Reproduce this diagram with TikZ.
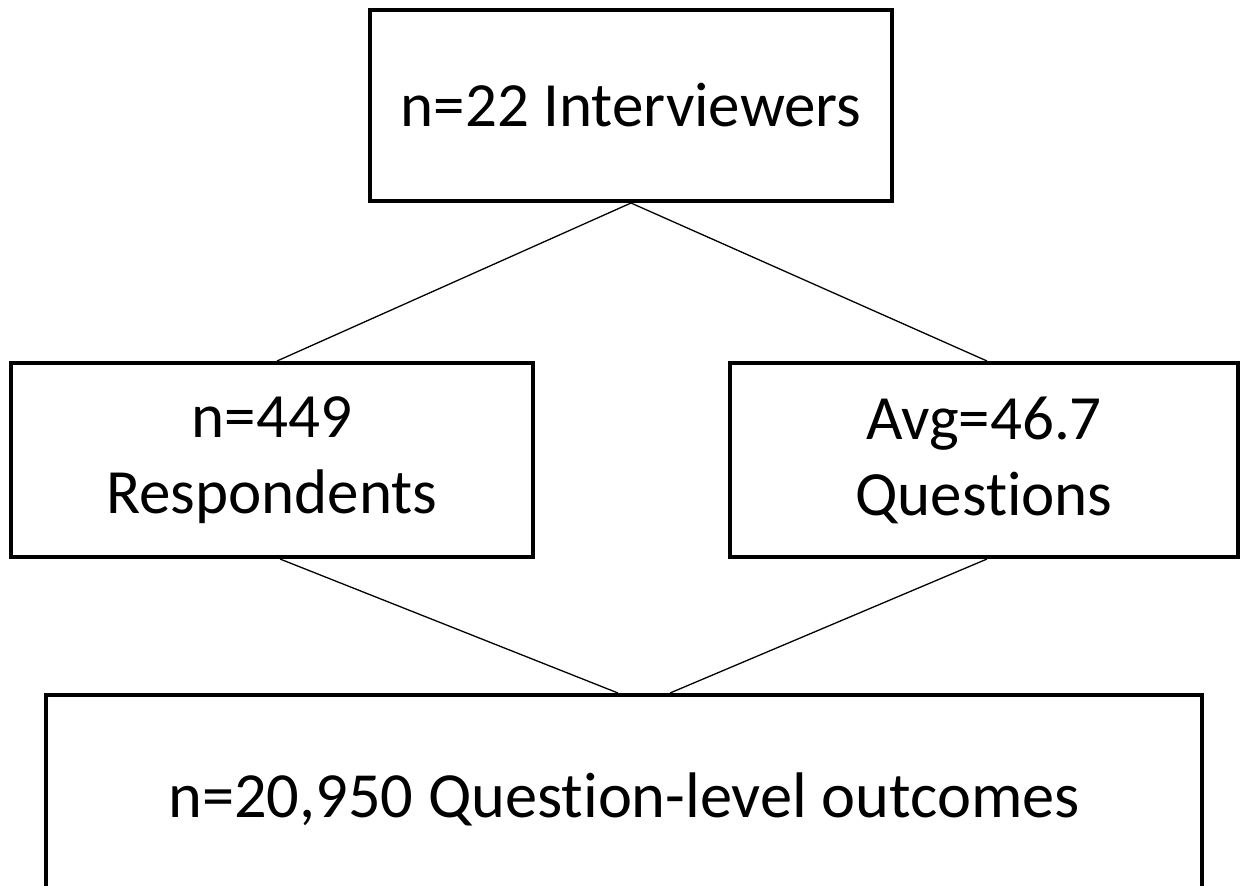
\documentclass[tikz,border=0pt]{standalone}
\usepackage{fontspec}
\setmainfont{Carlito}[Ligatures=NoCommon]
\usepackage{tikz}
\usetikzlibrary{positioning}

\begin{document}
\begin{tikzpicture}[
  x=0.5pt,y=-0.5pt,
  box/.style={rectangle,draw=black,line width=2pt,fill=white,align=center,
              inner sep=0pt,font=\fontsize{31.5}{38}\selectfont},
  link/.style={draw=black,line width=0.65pt}
]
\useasboundingbox (0,0) rectangle (1240,885);
\node[box,minimum width=261pt,minimum height=95.5pt] (interv) at (631,105.5) {n=22 Interviewers};
\node[box,minimum width=261pt,minimum height=97pt] (resp) at (272,460) {n=449\\Respondents};
\node[box,minimum width=254pt,minimum height=97pt] (quest) at (984,460) {Avg=46.7\\Questions};
\node[box,minimum width=578pt,minimum height=150pt,text depth=50pt,
      font=\fontsize{32.2}{38}\selectfont] (outc) at (624,845) {n=20,950 Question-level outcomes};
\draw[link] (interv.south) -- ([xshift=2.5pt]resp.north);
\draw[link] (interv.south) -- ([xshift=1.5pt]quest.north);
\draw[link] ([xshift=4pt]resp.south) -- ([xshift=-3pt]outc.north);
\draw[link] ([xshift=1.5pt]quest.south) -- ([xshift=23pt]outc.north);
\end{tikzpicture}
\end{document}
